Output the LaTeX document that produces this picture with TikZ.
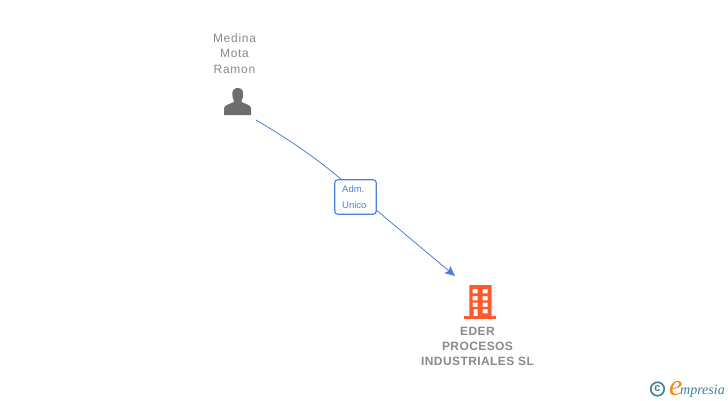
\documentclass[tikz,border=0pt]{standalone}
\usepackage{fontspec}
\setmainfont{Liberation Sans}
\newfontfamily\spaced[LetterSpace=6]{Liberation Sans}
\newfontfamily\spacedb[LetterSpace=3.5]{Liberation Sans}
\newfontfamily\logofont{Liberation Serif}
\definecolor{lbl}{HTML}{8A8A8A}
\definecolor{lnk}{HTML}{4A80DC}
\definecolor{ic}{HTML}{6E6E6E}
\definecolor{bld}{HTML}{FF5A2B}
\definecolor{teal}{HTML}{3F7F97}
\definecolor{org}{HTML}{F08A1D}
\usetikzlibrary{arrows.meta}
\tikzset{
  namelbl/.style={inner sep=0,align=center,text=lbl,font=\spaced\fontsize{12}{15.3}\selectfont},
  boldlbl/.style={inner sep=0,align=center,text=lbl,font=\spacedb\bfseries\fontsize{12}{15.3}\selectfont},
  rolebox/.style={draw=lnk,line width=1.1pt,rounded corners=3pt,fill=white,minimum width=41.5pt,minimum height=34.5pt,inner sep=0,text=lnk},
  rolelbl/.style={inner sep=0,align=left,text=lnk,font=\fontsize{9.5}{16.5}\selectfont},
  link/.style={draw=lnk,line width=0.8pt},
}
\begin{document}
\begin{tikzpicture}[x=1pt,y=-1pt]
\useasboundingbox (0,0) rectangle (728,400);
\fill[white] (0,0) rectangle (728,400);
% person
\node[namelbl] (medina) at (234.5,53.5) {Medina\\Mota\\Ramon};
\fill[ic] (224,115) -- (224,108.5) .. controls (224,105) and (229,104.5) .. (233.8,102) -- (233.8,100.5) .. controls (232.5,98.5) and (232.3,95.5) .. (232.3,93.5) .. controls (232.3,90) and (234.5,88) .. (237.7,88) .. controls (241,88) and (243.2,90) .. (243.2,93.5) .. controls (243.2,95.5) and (243,98.5) .. (241.7,100.5) -- (241.7,102) .. controls (246.5,104.5) and (251,105) .. (251,108.5) -- (251,115) -- cycle;
\coordinate (src) at (256,120);
% building
\fill[bld,even odd rule] (469.3,285) rectangle (491.7,316.5)
  (472.7,289) rectangle (477.7,293.3) (482.7,289) rectangle (487.7,293.3)
  (472.7,296) rectangle (477.7,300.3) (482.7,296) rectangle (487.7,300.3)
  (472.7,302.5) rectangle (477.7,306.8) (482.7,302.5) rectangle (487.7,306.8)
  (473.5,309) rectangle (477.7,316.5) (482.7,309) rectangle (487.7,313.3);
\fill[bld] (464,316.3) rectangle (496,318.8);
\node[boldlbl] (eder) at (477.5,346.6) {EDER\\PROCESOS\\INDUSTRIALES SL};
\coordinate (dst) at (455,276);
% connector
\node[rolebox] (role) at (355.5,197) {};
\node[rolelbl,anchor=west] (rolet) at (342,197) {Adm.\\Unico};
\draw[link] (src) .. controls (285,137) and (315,157) .. (role.north west -| 341,180);
\draw[link,-{Stealth[length=10pt,width=9pt,inset=2pt]}] (role.south east |- 377,210.5) -- (dst);
% logo
\node[circle,draw=teal,line width=1.6pt,minimum size=13.5pt,inner sep=0,text=teal,font=\bfseries\fontsize{11}{11}\selectfont] (copy) at (657.5,389) {c};
\node[inner sep=0,anchor=base west,text=org,font=\logofont\itshape\fontsize{30}{30}\selectfont] (e) at (669,395) {e};
\node[inner sep=0,anchor=base west,text=teal,font=\logofont\itshape\fontsize{14}{14}\selectfont] (mp) at (680,394) {mpresia};
\end{tikzpicture}
\end{document}
